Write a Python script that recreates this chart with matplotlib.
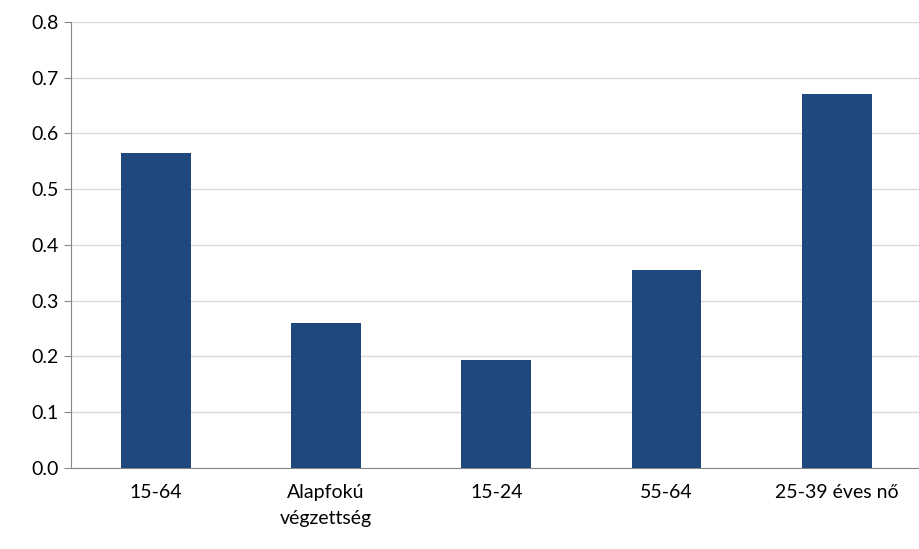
import matplotlib.pyplot as plt
import numpy as np

categories = ['15-64', 'Alapfokú\nvégzettség', '15-24', '55-64', '25-39 éves nő']
values = [0.565, 0.26, 0.194, 0.355, 0.67]

plt.rcParams['font.family'] = ['Lato', 'DejaVu Sans']
fig = plt.figure(figsize=(9.2, 5.49), dpi=100)
ax = fig.add_axes([0.077, 0.148, 0.925, 0.812])
x = np.arange(len(categories))
ax.bar(x, values, width=0.41, color='#1F497D', zorder=3)
ax.set_xlim(-0.5, len(categories) - 0.5)
ax.set_ylim(0, 0.8)
ax.set_yticks(np.arange(0, 0.81, 0.1))
ax.set_yticklabels([f'{v:.1f}' for v in np.arange(0, 0.81, 0.1)], fontsize=14)
ax.set_xticks(x)
ax.set_xticklabels(categories, fontsize=14, linespacing=1.6)
ax.tick_params(axis='x', length=0, pad=12)
ax.tick_params(axis='y', length=5, color='#868686')
ax.grid(axis='y', color='#D9D9D9', linewidth=1, zorder=0)
for s in ['top', 'right']:
    ax.spines[s].set_visible(False)
for s in ['left', 'bottom']:
    ax.spines[s].set_color('#868686')
fig.savefig('out.png')
